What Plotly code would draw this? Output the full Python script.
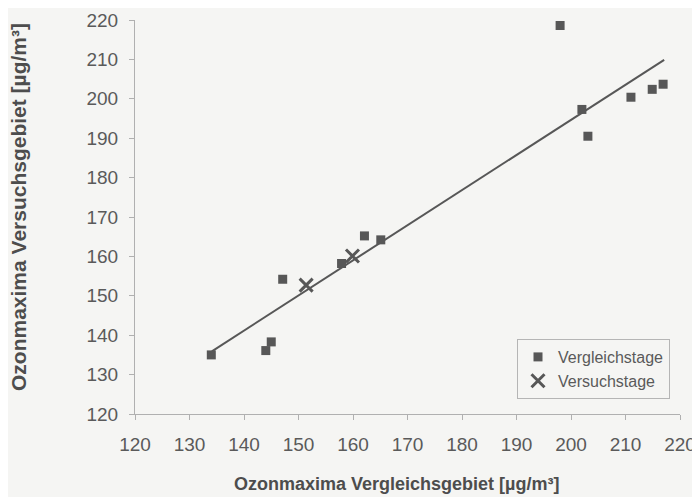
import plotly.graph_objects as go

# Vergleichstage (comparison days)
vergleich_x = [134.0, 144.0, 145.0, 147.1, 157.9, 162.1, 165.1, 198.0, 202.0, 203.1, 211.0, 214.9, 216.9]
vergleich_y = [135.0, 136.1, 138.3, 154.2, 158.2, 165.2, 164.2, 218.6, 197.3, 190.5, 200.4, 202.4, 203.7]

# Versuchstage (test days)
versuch_x = [151.4, 159.9]
versuch_y = [152.7, 160.1]

# linear trend line end points
trend_x = [134.1, 217.1]
trend_y = [135.9, 209.9]

tick_vals = [120, 130, 140, 150, 160, 170, 180, 190, 200, 210, 220]

x_title = "Ozonmaxima Vergleichsgebiet [µg/m³]"
y_title = "Ozonmaxima Versuchsgebiet [µg/m³]"

ink = "#575757"
bg = "#f5f5f3"

fig = go.Figure()
fig.add_trace(go.Scatter(x=trend_x, y=trend_y, mode="lines",
                         line=dict(color=ink, width=2), showlegend=False, hoverinfo="skip"))
fig.add_trace(go.Scatter(x=vergleich_x, y=vergleich_y, mode="markers", name="Vergleichstage",
                         marker=dict(symbol="square", size=9, color=ink)))
fig.add_trace(go.Scatter(x=versuch_x, y=versuch_y, mode="markers", name="Versuchstage",
                         marker=dict(symbol="x-thin", size=13, color=ink,
                                     line=dict(color=ink, width=3))))

font = "Liberation Sans, Arial, sans-serif"
# page body adds an 8px offset; positions below are in figure pixels
OFF = 8
W, H = 700 - OFF, 497 - OFF
L, T = 135 - OFF, 20 - OFF
R = W - (680 - OFF)
B = H - (414 - OFF)
pw, ph = W - L - R, H - T - B


def px(xs):
    return (xs - OFF - L) / pw


def py(ys):
    return (H - B - (ys - OFF)) / ph


fig.update_layout(
    width=W, height=H,
    margin=dict(l=L, r=R, t=T, b=B, autoexpand=False),
    paper_bgcolor=bg, plot_bgcolor=bg,
    font=dict(family=font, color="#5a5a5a", size=19),
    showlegend=True,
    legend=dict(x=px(517), y=py(339), xanchor="left", yanchor="top",
                bgcolor=bg, bordercolor="#b5b5b5", borderwidth=1,
                font=dict(size=16, color="#5a5a5a"),
                itemwidth=30, tracegroupgap=0),
    xaxis=dict(range=[120, 220], tickvals=tick_vals, showgrid=False, zeroline=False,
               showline=True, linecolor="#b0b0b0", linewidth=1, automargin=False,
               ticks="outside", ticklen=5, tickcolor="#b0b0b0",
               ticklabelstandoff=8),
    yaxis=dict(range=[120, 220], tickvals=tick_vals, showgrid=False, zeroline=False,
               showline=True, linecolor="#b0b0b0", linewidth=1, automargin=False,
               ticks="outside", ticklen=5, tickcolor="#b0b0b0",
               ticklabelstandoff=7),
    annotations=[
        dict(text="<b>" + x_title + "</b>", xref="paper", yref="paper",
             x=px(396), y=py(484), xanchor="center", yanchor="middle",
             showarrow=False, font=dict(size=18, color="#4d4d4d")),
        dict(text="<b>" + y_title + "</b>", xref="paper", yref="paper",
             x=px(18), y=py(207), xanchor="center", yanchor="middle",
             textangle=-90, showarrow=False, font=dict(size=21, color="#4d4d4d")),
    ],
)

fig.write_html("out.html")
